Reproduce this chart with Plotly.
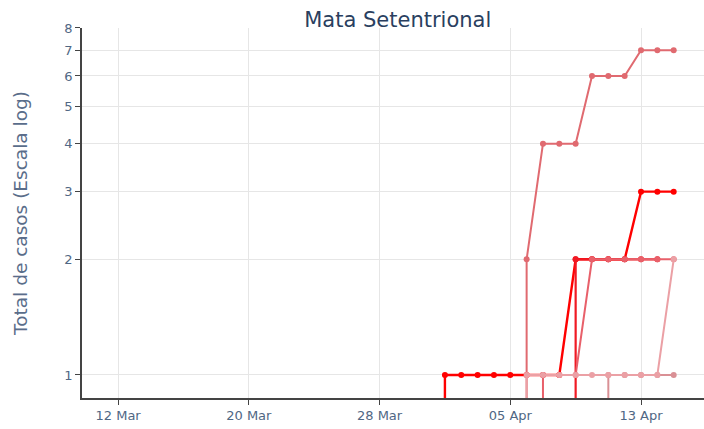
import plotly.graph_objects as go

# Daily cumulative case counts per municipality (log scale; zeros drop off the axis)
dates = [
    "2020-03-31", "2020-04-01", "2020-04-02", "2020-04-03", "2020-04-04",
    "2020-04-05", "2020-04-06", "2020-04-07", "2020-04-08", "2020-04-09",
    "2020-04-10", "2020-04-11", "2020-04-12", "2020-04-13", "2020-04-14",
    "2020-04-15",
]

cases_a = [0, 1, 1, 1, 1, 1, 1, 1, 1, 2, 2, 2, 2, 3, 3, 3]
cases_b = [None, None, None, None, None, None, None, None, 0, 2, 2, 2, 2, 2, 2, None]
cases_e = [None, None, None, None, None, None, 0, 1, 1, 1, 2, 2, 2, 2, 2, 2]
cases_d = [None, None, None, None, None, 0, 2, 4, 4, 4, 6, 6, 6, 7, 7, 7]
cases_f = [None, None, None, None, None, None, None, None, None, None, 0, 1, 1, 1, 1, 1]
cases_c = [None, None, None, None, None, 0, 1, 1, 1, 1, 1, 1, 1, 1, 1, 2]

series = [
    (cases_a, "#ff0000", 2.4),
    (cases_b, "#f01a24", 2.2),
    (cases_e, "#e8606a", 2.0),
    (cases_d, "#e06a70", 2.0),
    (cases_f, "#d99095", 2.0),
    (cases_c, "#eba0a5", 2.0),
]

x_tick_vals = ["2020-03-12", "2020-03-20", "2020-03-28", "2020-04-05", "2020-04-13"]
x_tick_text = ["12 Mar", "20 Mar", "28 Mar", "05 Apr", "13 Apr"]
y_tick_vals = [1, 2, 3, 4, 5, 6, 7, 8]

fig = go.Figure()
for values, color, width in series:
    fig.add_trace(go.Scatter(
        x=dates, y=values, mode="lines+markers",
        line=dict(color=color, width=width),
        marker=dict(color=color, size=6),
        showlegend=False,
    ))

font = "DejaVu Sans, Verdana, sans-serif"
fig.update_layout(
    width=704, height=429,
    margin=dict(l=82, r=0, t=28, b=31),
    paper_bgcolor="white", plot_bgcolor="white",
    font=dict(family=font, color="#506784"),
    title=dict(text="Mata Setentrional", x=0.565, xanchor="center",
               y=0.955, yanchor="middle",
               font=dict(size=21, color="#2a3f5f", family=font)),
)
fig.update_xaxes(
    range=["2020-03-09 19:00", "2020-04-16 20:30"],
    tickvals=x_tick_vals, ticktext=x_tick_text,
    tickfont=dict(size=13),
    showgrid=True, gridcolor="#e6e6e6", gridwidth=1,
    showline=True, linecolor="#444", linewidth=1.5,
    ticks="outside", tickcolor="#444", ticklen=5,
    zeroline=False,
)
fig.update_yaxes(
    type="log", range=[-0.06, 0.903],
    tickvals=y_tick_vals, ticktext=[str(v) for v in y_tick_vals],
    tickfont=dict(size=13),
    title=dict(text="Total de casos (Escala log)",
               font=dict(size=18.5, color="#5a6d8a"), standoff=32),
    showgrid=True, gridcolor="#e6e6e6", gridwidth=1,
    showline=True, linecolor="#444", linewidth=1.5,
    ticks="outside", tickcolor="#444", ticklen=5,
    zeroline=False,
)

fig.write_html("out.html")
